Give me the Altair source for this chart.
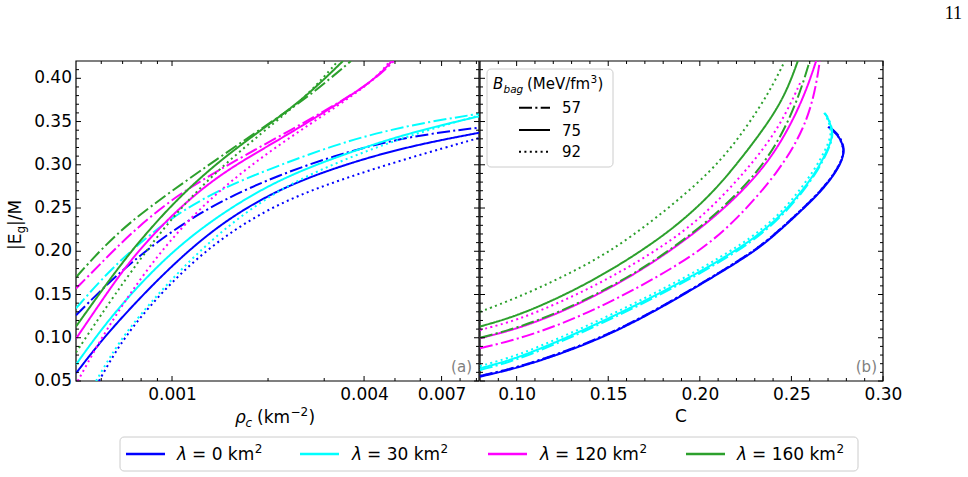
import altair as alt
import pandas as pd

# ---------------- categories / styles ----------------
lam_labels = ["0", "30", "120", "160"]
bag_labels = ["57", "75", "92"]
lam_colors = ["#0000ff", "#00ffff", "#ff00ff", "#2ca02c"]
bag_dashes = [[13, 3.3, 2.1, 3.3], [1, 0], [2, 3.4]]

# ---------------- tick values / labels ----------------
y_major = [0.05, 0.10, 0.15, 0.20, 0.25, 0.30, 0.35, 0.40]
y_major_text = ["0.05", "0.10", "0.15", "0.20", "0.25", "0.30", "0.35", "0.40"]
y_minor = [0.06, 0.07, 0.08, 0.09, 0.11, 0.12, 0.13, 0.14, 0.16, 0.17, 0.18, 0.19,
           0.21, 0.22, 0.23, 0.24, 0.26, 0.27, 0.28, 0.29, 0.31, 0.32, 0.33, 0.34,
           0.36, 0.37, 0.38, 0.39, 0.41]
rho_major = [0.001, 0.004, 0.007]
rho_minor = [0.0006, 0.0007, 0.0008, 0.0009, 0.002, 0.003, 0.005, 0.006, 0.008, 0.009]
c_major = [0.10, 0.15, 0.20, 0.25, 0.30]
c_minor = [0.09, 0.11, 0.12, 0.13, 0.14, 0.16, 0.17, 0.18, 0.19, 0.21, 0.22, 0.23,
           0.24, 0.26, 0.27, 0.28, 0.29]

# ---------------- panel (a): |Eg|/M vs rho_c (km^-2) ----------------
a_rho_grid = [0.000500, 0.000595, 0.000738, 0.001000, 0.001414, 0.002149, 0.003436, 0.005533, 0.00917]

a_rho_0_57 = a_rho_grid
a_E_0_57 = [0.126, 0.154, 0.186, 0.224, 0.258, 0.288, 0.314, 0.333, 0.343]
a_rho_0_75 = a_rho_grid
a_E_0_75 = [0.059, 0.095, 0.134, 0.184, 0.232, 0.272, 0.300, 0.3215, 0.337]
a_rho_0_92 = [0.000590, 0.000639, 0.000738, 0.001000, 0.001414, 0.002149, 0.003436, 0.005533, 0.00917]
a_E_0_92 = [0.050, 0.073, 0.110, 0.166, 0.215, 0.256, 0.284, 0.308, 0.331]

a_rho_30_57 = a_rho_grid
a_E_30_57 = [0.134, 0.166, 0.200, 0.240, 0.272, 0.299, 0.3265, 0.346, 0.359]
a_rho_30_75 = a_rho_grid
a_E_30_75 = [0.069, 0.108, 0.150, 0.200, 0.243, 0.283, 0.312, 0.337, 0.356]
a_rho_30_92 = [0.000578, 0.000639, 0.000738, 0.001000, 0.001414, 0.002149, 0.003436, 0.005533, 0.00917]
a_E_30_92 = [0.050, 0.078, 0.113, 0.169, 0.223, 0.272, 0.306, 0.334, 0.357]

a_rho_120_57 = [0.000500, 0.000595, 0.000738, 0.001000, 0.001414, 0.002149, 0.003436, 0.004360, 0.004964]
a_E_120_57 = [0.157, 0.185, 0.220, 0.261, 0.295, 0.332, 0.374, 0.400, 0.420]
a_rho_120_75 = [0.000500, 0.000595, 0.000738, 0.001000, 0.001414, 0.002149, 0.003436, 0.004360, 0.004893]
a_E_120_75 = [0.099, 0.140, 0.190, 0.243, 0.290, 0.328, 0.374, 0.400, 0.420]
a_rho_120_92 = [0.000506, 0.000526, 0.000595, 0.000738, 0.001000, 0.001414, 0.002149, 0.003436, 0.004360, 0.004822]
a_E_120_92 = [0.050, 0.061, 0.097, 0.152, 0.217, 0.272, 0.323, 0.372, 0.400, 0.420]

a_rho_160_57 = [0.000500, 0.000595, 0.000738, 0.001000, 0.001414, 0.002149, 0.002688, 0.003640]
a_E_160_57 = [0.170, 0.201, 0.234, 0.270, 0.309, 0.355, 0.379, 0.420]
a_rho_160_75 = [0.000500, 0.000595, 0.000738, 0.001000, 0.001414, 0.002149, 0.002688, 0.003436]
a_E_160_75 = [0.113, 0.152, 0.199, 0.255, 0.306, 0.354, 0.382, 0.420]
a_rho_160_92 = [0.000500, 0.000595, 0.000738, 0.001000, 0.001414, 0.002149, 0.002688, 0.003314]
a_E_160_92 = [0.083, 0.125, 0.175, 0.240, 0.297, 0.352, 0.382, 0.420]

# ---------------- panel (b): |Eg|/M vs C ----------------
b_C_0_57 = [0.08, 0.10, 0.125, 0.15, 0.175, 0.20, 0.2255, 0.238, 0.256, 0.267, 0.2745, 0.2780, 0.2790, 0.2768, 0.2731, 0.2702]
b_E_0_57 = [0.0558, 0.0655, 0.0828, 0.1038, 0.1308, 0.1618, 0.1945, 0.2138, 0.2488, 0.2718, 0.2928, 0.3078, 0.3188, 0.3318, 0.3398, 0.3448]
b_C_0_75 = [0.08, 0.10, 0.125, 0.15, 0.175, 0.20, 0.2255, 0.238, 0.256, 0.267, 0.2745, 0.2780, 0.2788, 0.2766, 0.2729, 0.2700]
b_E_0_75 = [0.055, 0.0647, 0.082, 0.103, 0.130, 0.161, 0.1937, 0.213, 0.248, 0.271, 0.292, 0.307, 0.318, 0.331, 0.339, 0.344]
b_C_0_92 = [0.08, 0.10, 0.125, 0.15, 0.175, 0.20, 0.2253, 0.2378, 0.2558, 0.2668, 0.2743, 0.2778, 0.2786, 0.2764, 0.2727, 0.2698]
b_E_0_92 = [0.0556, 0.0653, 0.0826, 0.1036, 0.1306, 0.1616, 0.1943, 0.2136, 0.2486, 0.2716, 0.2926, 0.3076, 0.3186, 0.3316, 0.3396, 0.3446]

b_C_30_57 = [0.08, 0.10, 0.125, 0.15, 0.175, 0.20, 0.222, 0.233, 0.244, 0.2545, 0.2635, 0.2695, 0.2729, 0.2719, 0.2699, 0.2684]
b_E_30_57 = [0.0627, 0.074, 0.096, 0.120, 0.146, 0.174, 0.202, 0.219, 0.239, 0.264, 0.290, 0.314, 0.332, 0.345, 0.355, 0.359]
b_C_30_75 = [0.08, 0.10, 0.125, 0.15, 0.175, 0.20, 0.222, 0.233, 0.244, 0.2545, 0.2635, 0.2695, 0.2727, 0.2715, 0.2695, 0.2680]
b_E_30_75 = [0.0646, 0.076, 0.098, 0.122, 0.148, 0.176, 0.204, 0.221, 0.241, 0.266, 0.292, 0.316, 0.333, 0.346, 0.356, 0.360]
b_C_30_92 = [0.08, 0.10, 0.125, 0.15, 0.175, 0.20, 0.222, 0.233, 0.244, 0.2540, 0.2628, 0.2688, 0.2720, 0.2708, 0.2689, 0.2675]
b_E_30_92 = [0.0673, 0.079, 0.101, 0.125, 0.151, 0.179, 0.207, 0.224, 0.244, 0.269, 0.295, 0.318, 0.335, 0.347, 0.357, 0.361]

b_C_120_57 = [0.08, 0.10, 0.125, 0.15, 0.175, 0.20, 0.22, 0.2436, 0.2573, 0.263, 0.2655]
b_E_120_57 = [0.0878, 0.098, 0.116, 0.140, 0.168, 0.200, 0.236, 0.293, 0.343, 0.385, 0.420]
b_C_120_75 = [0.08, 0.10, 0.125, 0.15, 0.175, 0.207, 0.2345, 0.249, 0.258, 0.2635]
b_E_120_75 = [0.0994, 0.110, 0.130, 0.156, 0.187, 0.236, 0.293, 0.343, 0.385, 0.420]
b_C_120_92 = [0.08, 0.10, 0.125, 0.15, 0.175, 0.20, 0.2255, 0.2436, 0.2555]
b_E_120_92 = [0.109, 0.120, 0.142, 0.168, 0.199, 0.236, 0.293, 0.343, 0.398]

b_C_160_57 = [0.08, 0.10, 0.125, 0.15, 0.175, 0.206, 0.233, 0.247, 0.255, 0.260]
b_E_160_57 = [0.100, 0.111, 0.131, 0.157, 0.188, 0.236, 0.293, 0.343, 0.385, 0.420]
b_C_160_75 = [0.08, 0.10, 0.125, 0.15, 0.175, 0.192, 0.207, 0.22, 0.238, 0.2475, 0.2535]
b_E_160_75 = [0.113, 0.125, 0.148, 0.176, 0.210, 0.238, 0.268, 0.300, 0.350, 0.385, 0.420]
b_C_160_92 = [0.08, 0.10, 0.125, 0.15, 0.175, 0.2073, 0.2255, 0.2382, 0.2464]
b_E_160_92 = [0.130, 0.146, 0.170, 0.198, 0.236, 0.293, 0.343, 0.385, 0.420]

left_series = [
    ("0", "57", a_rho_0_57, a_E_0_57), ("0", "75", a_rho_0_75, a_E_0_75), ("0", "92", a_rho_0_92, a_E_0_92),
    ("30", "57", a_rho_30_57, a_E_30_57), ("30", "75", a_rho_30_75, a_E_30_75), ("30", "92", a_rho_30_92, a_E_30_92),
    ("120", "57", a_rho_120_57, a_E_120_57), ("120", "75", a_rho_120_75, a_E_120_75), ("120", "92", a_rho_120_92, a_E_120_92),
    ("160", "57", a_rho_160_57, a_E_160_57), ("160", "75", a_rho_160_75, a_E_160_75), ("160", "92", a_rho_160_92, a_E_160_92),
]
right_series = [
    ("0", "57", b_C_0_57, b_E_0_57), ("0", "75", b_C_0_75, b_E_0_75), ("0", "92", b_C_0_92, b_E_0_92),
    ("30", "57", b_C_30_57, b_E_30_57), ("30", "75", b_C_30_75, b_E_30_75), ("30", "92", b_C_30_92, b_E_30_92),
    ("120", "57", b_C_120_57, b_E_120_57), ("120", "75", b_C_120_75, b_E_120_75), ("120", "92", b_C_120_92, b_E_120_92),
    ("160", "57", b_C_160_57, b_E_160_57), ("160", "75", b_C_160_75, b_E_160_75), ("160", "92", b_C_160_92, b_E_160_92),
]


def to_frame(series):
    rows = []
    for lam, bag, xs, ys in series:
        for i, (xv, yv) in enumerate(zip(xs, ys)):
            rows.append({"x": xv, "E": yv, "lam": lam, "bag": bag, "i": i, "curve": lam + "_" + bag})
    return pd.DataFrame(rows)


df_left = to_frame(left_series)
df_right = to_frame(right_series)

# ---------------- geometry ----------------
W_PANEL = 403
W = 807
H = 320
FONT = "DejaVu Sans"

xl_scale = alt.Scale(type="log", domain=[0.0005, 0.00917], range=[0, W_PANEL], nice=False)
xr_scale = alt.Scale(type="linear", domain=[0.08, 0.30], range=[W_PANEL + 1, W], nice=False, zero=False)
y_scale = alt.Scale(domain=[0.05, 0.42], nice=False, zero=False)

color_enc = alt.Color("lam:N", scale=alt.Scale(domain=lam_labels, range=lam_colors), legend=None)
dash_enc = alt.StrokeDash("bag:N", scale=alt.Scale(domain=bag_labels, range=bag_dashes), legend=None)

axis_common = dict(domain=False, ticks=False, grid=False, labelFontSize=17, labelFont=FONT,
                   labelColor="black", labelFlush=False, labelOverlap=False, title=None)

left_lines = alt.Chart(df_left).mark_line(strokeWidth=2, clip=True, interpolate="basis").encode(
    x=alt.X("x:Q", scale=xl_scale,
            axis=alt.Axis(values=rho_major, format=".3f", orient="bottom", labelPadding=5, **axis_common)),
    y=alt.Y("E:Q", scale=y_scale, axis=None),
    color=color_enc,
    strokeDash=dash_enc,
    detail="curve:N",
    order=alt.Order("i:Q"),
)

right_lines = alt.Chart(df_right).mark_line(strokeWidth=2, clip=True, interpolate="basis").encode(
    x=alt.X("x:Q", scale=xr_scale,
            axis=alt.Axis(values=c_major, format=".2f", orient="bottom", labelPadding=5, **axis_common)),
    y=alt.Y("E:Q", scale=y_scale, axis=None),
    color=color_enc,
    strokeDash=dash_enc,
    detail="curve:N",
    order=alt.Order("i:Q"),
)

# y tick labels of panel (a)
y_labels = alt.Chart(pd.DataFrame({"v": y_major, "t": y_major_text})).mark_text(
    align="right", baseline="middle", fontSize=17, font=FONT, color="black").encode(
    y=alt.Y("v:Q", scale=y_scale, axis=None), x=alt.value(-4), text="t:N")

MAJ = 5
MIN = 3


def yticks(values, x0, x1):
    return alt.Chart(pd.DataFrame({"v": values})).mark_rule(color="black", strokeWidth=1).encode(
        y=alt.Y("v:Q", scale=y_scale, axis=None), x=alt.value(x0), x2=alt.value(x1))


def xticks(values, scale, y0, y1):
    return alt.Chart(pd.DataFrame({"v": values})).mark_rule(color="black", strokeWidth=1).encode(
        x=alt.X("v:Q", scale=scale, axis=None), y=alt.value(y0), y2=alt.value(y1))


tick_layers = []
for vals, L in ((y_major, MAJ), (y_minor, MIN)):
    tick_layers.append(yticks(vals, 0, L))
    tick_layers.append(yticks(vals, W_PANEL - L, W_PANEL))
    tick_layers.append(yticks(vals, W_PANEL + 1, W_PANEL + 1 + L))
    tick_layers.append(yticks(vals, W - L, W))
for vals, L in ((rho_major, MAJ), (rho_minor, MIN)):
    tick_layers.append(xticks(vals, xl_scale, H - L, H))
    tick_layers.append(xticks(vals, xl_scale, 0, L))
for vals, L in ((c_major, MAJ), (c_minor, MIN)):
    tick_layers.append(xticks(vals, xr_scale, H - L, H))
    tick_layers.append(xticks(vals, xr_scale, 0, L))

one = pd.DataFrame({"a": [0]})

frames = [
    alt.Chart(one).mark_rect(fillOpacity=0, stroke="black", strokeWidth=1.2).encode(
        x=alt.value(0), x2=alt.value(W_PANEL), y=alt.value(0), y2=alt.value(H)),
    alt.Chart(one).mark_rect(fillOpacity=0, stroke="black", strokeWidth=1.2).encode(
        x=alt.value(W_PANEL + 1), x2=alt.value(W), y=alt.value(0), y2=alt.value(H)),
]


def txt(s, x, y, size=17, italic=False, align="left", baseline="alphabetic", color="black",
        angle=None, font=FONT):
    kw = dict(fontSize=size, font=font, align=align, baseline=baseline, color=color)
    if italic:
        kw["fontStyle"] = "italic"
    if angle is not None:
        kw["angle"] = angle
    return alt.Chart(one).mark_text(**kw).encode(x=alt.value(x), y=alt.value(y), text=alt.value(s))


texts = [
    # y title |E_g|/M (rotated)
    txt("|E", -55, 189, angle=270),
    txt("g", -51, 172.5, size=12, angle=270),
    txt("|/M", -55, 165, angle=270),
    # x title rho_c (km^-2)
    txt("ρ", 159, 362, italic=True),
    txt("c", 169.5, 366, size=12, italic=True),
    txt("(km", 181, 362),
    txt("−2", 214.5, 355, size=12),
    txt(")", 232.5, 362),
    # x title C
    txt("C", 605, 361, align="center"),
    # panel tags
    txt("(a)", 396, 306, size=15, align="right", baseline="middle", color="#808080"),
    txt("(b)", 801, 306, size=15, align="right", baseline="middle", color="#808080"),
    # page number
    txt("11", 886, -42, size=18, align="right", font="Liberation Serif"),
]

# ---------------- inset legend (B_bag) ----------------
inset = [
    alt.Chart(one).mark_rect(fill="white", fillOpacity=0.8, stroke="#cccccc", strokeWidth=1,
                             cornerRadius=4).encode(
        x=alt.value(411), x2=alt.value(537), y=alt.value(8), y2=alt.value(106)),
    txt("B", 417, 28, size=15, italic=True),
    txt("bag", 427.5, 32, size=10.5, italic=True),
    txt("(MeV/fm", 451, 28, size=15),
    txt("3", 514.5, 22, size=10.5),
    txt(")", 521.5, 28, size=15),
]
inset_y = [46.7, 69.0, 90.7]
for k, (lab, dash) in enumerate(zip(bag_labels, bag_dashes)):
    yy = inset_y[k]
    inset.append(alt.Chart(one).mark_rule(color="black", strokeWidth=2, strokeDash=dash).encode(
        x=alt.value(443), x2=alt.value(474), y=alt.value(yy)))
    inset.append(txt(lab, 486, yy + 5.5, size=15))

# ---------------- bottom legend (lambda) ----------------
bottom = [
    alt.Chart(one).mark_rect(fill="white", fillOpacity=0.8, stroke="#cccccc", strokeWidth=1,
                             cornerRadius=4).encode(
        x=alt.value(44), x2=alt.value(782), y=alt.value(376), y2=alt.value(410)),
]
sym_x = [50, 224, 412, 610]
lab_x = [101, 276, 464, 661]
lab_w = [62.3, 73.1, 83.9, 83.9]
for k, (lab, col) in enumerate(zip(lam_labels, lam_colors)):
    bottom.append(alt.Chart(one).mark_rule(color=col, strokeWidth=2.5).encode(
        x=alt.value(sym_x[k]), x2=alt.value(sym_x[k] + 39), y=alt.value(393)))
    bottom.append(txt("λ", lab_x[k], 399, italic=True))
    bottom.append(txt("= " + lab + " km", lab_x[k] + 15, 399))
    bottom.append(txt("2", lab_x[k] + 15 + lab_w[k] + 0.5, 392, size=12))

chart = alt.layer(
    *frames, left_lines, right_lines, y_labels, *tick_layers, *texts, *inset, *bottom
).resolve_scale(x="independent").properties(
    width=W, height=H,
    autosize=alt.AutoSizeParams(type="none"),
    padding={"left": 76, "top": 61, "right": 85, "bottom": 96},
    background="white",
).configure_view(stroke=None)

chart.save("out.html", embed_options={"renderer": "svg", "actions": False})
